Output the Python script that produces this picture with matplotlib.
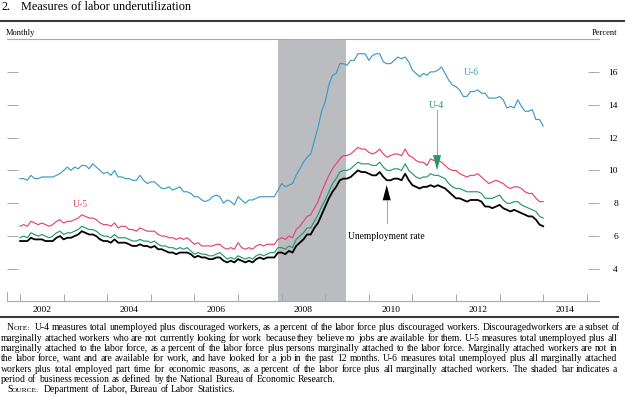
import numpy as np
import matplotlib
matplotlib.use("Agg")
import matplotlib.pyplot as plt
from matplotlib.lines import Line2D
from matplotlib.backends.backend_agg import get_hinting_flag

plt.rcParams['font.family'] = 'Liberation Serif'

# Monthly data, Jan 2002 - Jan 2014 (percent)
unemp = [5.7, 5.7, 5.7, 5.9, 5.8, 5.8, 5.8, 5.7, 5.7, 5.7, 5.9, 6.0,
         5.8, 5.9, 5.9, 6.0, 6.1, 6.3, 6.2, 6.1, 6.1, 6.0, 5.8, 5.7,
         5.7, 5.6, 5.8, 5.6, 5.6, 5.6, 5.5, 5.4, 5.4, 5.5, 5.4, 5.4,
         5.3, 5.4, 5.2, 5.2, 5.1, 5.0, 5.0, 4.9, 5.0, 5.0, 5.0, 4.9,
         4.7, 4.8, 4.7, 4.7, 4.6, 4.6, 4.7, 4.7, 4.5, 4.4, 4.5, 4.4,
         4.6, 4.5, 4.4, 4.5, 4.4, 4.6, 4.7, 4.6, 4.7, 4.7, 4.7, 5.0,
         5.0, 4.9, 5.1, 5.0, 5.4, 5.6, 5.8, 6.1, 6.1, 6.5, 6.8, 7.3,
         7.8, 8.3, 8.7, 9.0, 9.4, 9.5, 9.5, 9.6, 9.8, 10.0, 9.9, 9.9,
         9.8, 9.7, 9.7, 9.9, 9.6, 9.4, 9.4, 9.5, 9.5, 9.4, 9.8, 9.4,
         9.1, 9.0, 8.9, 9.0, 9.0, 9.1, 9.0, 9.1, 9.0, 8.9, 8.7, 8.5,
         8.3, 8.3, 8.2, 8.1, 8.2, 8.2, 8.2, 8.1, 7.8, 7.8, 7.7, 7.8,
         7.9, 7.7, 7.6, 7.5, 7.6, 7.5, 7.4, 7.3, 7.2, 7.2, 7.0, 6.7,
         6.6]

u4 = [5.9, 6.0, 5.9, 6.2, 6.1, 6.0, 6.1, 6.0, 5.9, 6.0, 6.2, 6.3,
      6.1, 6.2, 6.2, 6.3, 6.4, 6.6, 6.5, 6.4, 6.4, 6.3, 6.1, 6.0,
      6.0, 5.9, 6.1, 5.9, 5.9, 5.9, 5.8, 5.7, 5.7, 5.8, 5.7, 5.7,
      5.6, 5.7, 5.5, 5.4, 5.4, 5.3, 5.3, 5.2, 5.3, 5.2, 5.3, 5.1,
      4.9, 5.0, 4.9, 4.9, 4.8, 4.8, 4.9, 5.0, 4.8, 4.6, 4.7, 4.6,
      4.8, 4.7, 4.6, 4.7, 4.6, 4.8, 4.9, 4.8, 4.9, 5.0, 5.0, 5.3,
      5.3, 5.2, 5.4, 5.3, 5.8, 6.0, 6.2, 6.5, 6.5, 6.9, 7.3, 7.8,
      8.2, 8.7, 9.2, 9.5, 9.9, 10.0, 10.0, 10.1, 10.3, 10.5, 10.4, 10.4,
      10.4, 10.3, 10.3, 10.5, 10.2, 10.0, 10.0, 10.1, 10.1, 10.0, 10.4, 10.0,
      9.8, 9.6, 9.5, 9.6, 9.6, 9.8, 9.7, 9.7, 9.6, 9.5, 9.2, 9.0,
      8.9, 8.9, 8.8, 8.7, 8.7, 8.7, 8.7, 8.6, 8.3, 8.3, 8.3, 8.4,
      8.5, 8.2, 8.0, 8.0, 8.1, 8.1, 7.9, 7.8, 7.7, 7.6, 7.5, 7.2,
      7.1]

u5 = [6.6, 6.7, 6.6, 6.9, 6.8, 6.7, 6.8, 6.7, 6.6, 6.7, 6.9, 7.0,
      6.8, 6.9, 6.9, 7.0, 7.1, 7.3, 7.2, 7.1, 7.1, 7.0, 6.8, 6.7,
      6.7, 6.6, 6.8, 6.5, 6.6, 6.6, 6.4, 6.4, 6.3, 6.5, 6.4, 6.3,
      6.3, 6.3, 6.1, 6.0, 6.0, 5.9, 5.9, 5.8, 5.9, 5.8, 5.9, 5.7,
      5.5, 5.6, 5.4, 5.4, 5.4, 5.4, 5.5, 5.5, 5.3, 5.2, 5.3, 5.2,
      5.6, 5.3, 5.2, 5.3, 5.2, 5.4, 5.5, 5.4, 5.5, 5.5, 5.5, 5.8,
      5.9, 5.8, 6.0, 5.9, 6.4, 6.6, 6.9, 7.2, 7.3, 7.7, 8.1, 8.7,
      9.2, 9.7, 10.1, 10.4, 10.7, 10.9, 10.9, 11.0, 11.2, 11.4, 11.3, 11.3,
      11.1, 11.0, 11.1, 11.3, 11.0, 10.8, 10.9, 11.0, 11.0, 10.9, 11.3, 10.9,
      10.8, 10.6, 10.5, 10.5, 10.3, 10.7, 10.6, 10.6, 10.5, 10.3, 10.1, 10.0,
      10.0, 9.8, 9.7, 9.6, 9.7, 9.7, 9.8, 9.6, 9.4, 9.2, 9.3, 9.4,
      9.3, 9.2, 9.0, 8.9, 9.0, 9.0, 8.9, 8.7, 8.6, 8.6, 8.3, 8.1,
      8.1]

u6 = [9.5, 9.5, 9.4, 9.7, 9.5, 9.5, 9.6, 9.6, 9.6, 9.6, 9.7, 9.8,
      10.0, 10.2, 10.0, 10.2, 10.1, 10.3, 10.3, 10.1, 10.4, 10.2, 10.0, 9.8,
      9.9, 9.7, 10.0, 9.6, 9.6, 9.5, 9.5, 9.4, 9.4, 9.7, 9.4, 9.2,
      9.3, 9.3, 9.1, 8.9, 8.9, 9.0, 8.8, 8.9, 9.0, 8.7, 8.7, 8.6,
      8.4, 8.4, 8.2, 8.1, 8.2, 8.4, 8.5, 8.4, 8.0, 8.2, 8.1, 7.9,
      8.4, 8.2, 8.0, 8.2, 8.2, 8.3, 8.4, 8.4, 8.4, 8.4, 8.4, 8.8,
      9.2, 9.0, 9.1, 9.2, 9.7, 10.1, 10.5, 10.8, 11.0, 11.8, 12.6, 13.6,
      14.2, 15.2, 15.8, 15.9, 16.5, 16.5, 16.4, 16.7, 16.7, 17.1, 17.1, 17.1,
      16.7, 17.0, 17.1, 17.1, 16.6, 16.5, 16.5, 16.7, 16.9, 16.8, 16.9, 16.6,
      16.1, 15.9, 15.7, 15.9, 15.8, 16.0, 16.0, 16.1, 16.3, 15.9, 15.5, 15.2,
      15.1, 14.9, 14.5, 14.5, 14.8, 14.8, 14.9, 14.7, 14.7, 14.4, 14.4, 14.4,
      14.5, 14.3, 13.8, 13.9, 13.8, 14.3, 13.9, 13.6, 13.6, 13.7, 13.1, 13.1,
      12.7]

year_ticks = list(range(2002, 2016))
label_years = [2002, 2004, 2006, 2008, 2010, 2012, 2014]
y_ticks = [4, 6, 8, 10, 12, 14, 16]
recession = (2007.92, 2009.48)

blue = '#3c9bc8'
red = '#e8436e'
green = '#27986a'
grey = '#a8a8a8'

W, H = 625, 397
fig = plt.figure(figsize=(W / 100, H / 100), dpi=100)
ax = fig.add_axes([7 / W, 1 - 301 / H, 592 / W, 262 / H])

x = 2002 + np.arange(len(unemp)) / 12

ax.axvspan(*recession, color='#bbbcc0', lw=0, zorder=0)
ax.plot(x, u6, color=blue, lw=0.85)
ax.plot(x, u5, color=red, lw=0.85)
ax.plot(x, u4, color=green, lw=0.85)
ax.plot(x, unemp, color='black', lw=1.3)

ax.set_xlim(2001.70, 2015.28)
ax.set_ylim(2.05, 18)

for side in ['left', 'right']:
    ax.spines[side].set_visible(False)
for side in ['top', 'bottom']:
    ax.spines[side].set_color(grey)
    ax.spines[side].set_linewidth(0.8)

# y axis: ticks on both sides, labels on the right
ax.set_yticks(y_ticks)
ax.set_yticklabels([str(v) for v in y_ticks])
ax.tick_params(axis='y', direction='in', length=8, width=0.7, color=grey,
               left=True, right=True, labelleft=False, labelright=True,
               labelsize=6.8, pad=13.7)
for t in ax.yaxis.get_major_ticks():
    t.label2.set_horizontalalignment('right')

# x axis: year marks, labels centred in the year
ax.set_xticks(year_ticks)
ax.set_xticklabels([])
ax.set_xticks([y + 0.5 for y in label_years], minor=True)
ax.set_xticklabels([str(y) for y in label_years], minor=True)
ax.tick_params(axis='x', which='major', direction='in', length=5, width=0.7, color=grey)
ax.tick_params(axis='x', which='minor', length=0, labelsize=6.8, pad=3.5)
for edge in ax.get_xlim():
    ax.axvline(edge, ymax=9 / 262, color=grey, lw=0.7)

# series labels and arrows
ax.text(2012.34, 15.82, 'U-6', color=blue, size=7, ha='center', va='baseline')
ax.text(2011.56, 13.82, 'U-4', color=green, size=7, ha='center', va='baseline')
ax.text(2003.39, 7.79, 'U-5', color=red, size=7, ha='center', va='baseline')
ax.text(2010.41, 5.83, 'Unemployment rate', color='black', size=6.9, ha='center', va='baseline')

ax.plot([2011.565, 2011.565], [13.67, 10.93], color=grey, lw=0.8)
ax.annotate('', xy=(2011.565, 10.0), xytext=(2011.565, 10.93),
            arrowprops=dict(arrowstyle='-|>,head_length=11,head_width=2.9', mutation_scale=1,
                            color=green, lw=0, shrinkA=0, shrinkB=0))
ax.plot([2010.41, 2010.41], [6.82, 8.15], color=grey, lw=0.8)
ax.annotate('', xy=(2010.41, 9.11), xytext=(2010.41, 8.15),
            arrowprops=dict(arrowstyle='-|>,head_length=11,head_width=2.9', mutation_scale=1,
                            color='black', lw=0, shrinkA=0, shrinkB=0))

# header
fig.text(1 / W, 1 - 10 / H, '2.', size=8.8, va='baseline')
fig.text(21 / W, 1 - 10 / H, 'Measures of labor underutilization', size=8.8, va='baseline')
fig.add_artist(Line2D([0, 1], [1 - 20.5 / H] * 2, color='#3a3a3a', lw=1.5))
fig.text(6 / W, 1 - 35 / H, 'Monthly', size=6.0, va='baseline')
fig.text(617 / W, 1 - 35 / H, 'Percent', size=6.0, va='baseline', ha='right')
fig.add_artist(Line2D([0, 618 / W], [1 - 317 / H] * 2, color='#3a3a3a', lw=1.5))

# notes, justified by placing each word
note_size = 6.9
note_lines = [
    ('NOTE:  U-4 measures total unemployed plus discouraged workers, as a percent of the labor force '
     'plus discouraged workers. Discouragedworkers are a subset of', 7, True, 330),
    ('marginally attached workers who are not currently looking for work because they believe no jobs '
     'are available for them. U-5 measures total unemployed plus all', 1, True, 341),
    ('marginally attached to the labor force, as a percent of the labor force plus persons marginally '
     'attached to the labor force. Marginally attached workers are not in', 1, True, 351),
    ('the labor force, want and are available for work, and have looked for a job in the past 12 months. '
     'U-6 measures total unemployed plus all marginally attached', 1, True, 361),
    ('workers plus total employed part time for economic reasons, as a percent of the labor force plus '
     'all marginally attached workers. The shaded bar indicates a', 1, True, 372),
    ('period of business recession as defined by the National Bureau of Economic Research.', 1, False, 382),
    ('SOURCE:  Department of Labor, Bureau of Labor Statistics.', 7, False, 392),
]

renderer = fig.canvas.get_renderer()


def width(t):
    return t.get_window_extent(renderer).width


def agg_drop(t, ypix):
    # how many pixels Agg's rounding moves this word's baseline down
    font = renderer._prepare_font(t.get_fontproperties())
    font.set_text(t.get_text(), 0, flags=get_hinting_flag())
    d = font.get_descent() / 64
    h = font.get_width_height()[1] / 64
    ym = h - d
    return round(ypix + d) - np.floor(ym + d) + np.floor(ym) - ypix


a = fig.text(0, 0, 'a a', size=note_size)
b = fig.text(0, 0, 'aa', size=note_size)
space = width(a) - width(b)
a.remove()
b.remove()

for line, x0, justify, ypix in note_lines:
    groups = []
    for w in line.split():
        if len(w) > 1 and w.rstrip(':').isalpha() and w.isupper():
            parts = [(w[0], note_size), (w[1:], note_size * 0.78)]
        else:
            parts = [(w, note_size)]
        groups.append([fig.text(0, 1 - ypix / H, s, size=sz, va='baseline') for s, sz in parts])
    widths = [sum(width(t) for t in g) for g in groups]
    if justify:
        gap = (620 - x0 - sum(widths) - space) / (len(groups) - 1)
    else:
        gap = space
    xpos = x0
    for i, (g, wd) in enumerate(zip(groups, widths)):
        for t in g:
            t.set_position((round(xpos) / W, 1 - (ypix - agg_drop(t, ypix)) / H))
            xpos += width(t)
        xpos += gap
        if i == 0 and len(g) > 1:
            xpos += space

fig.savefig('out.png', dpi=100)
